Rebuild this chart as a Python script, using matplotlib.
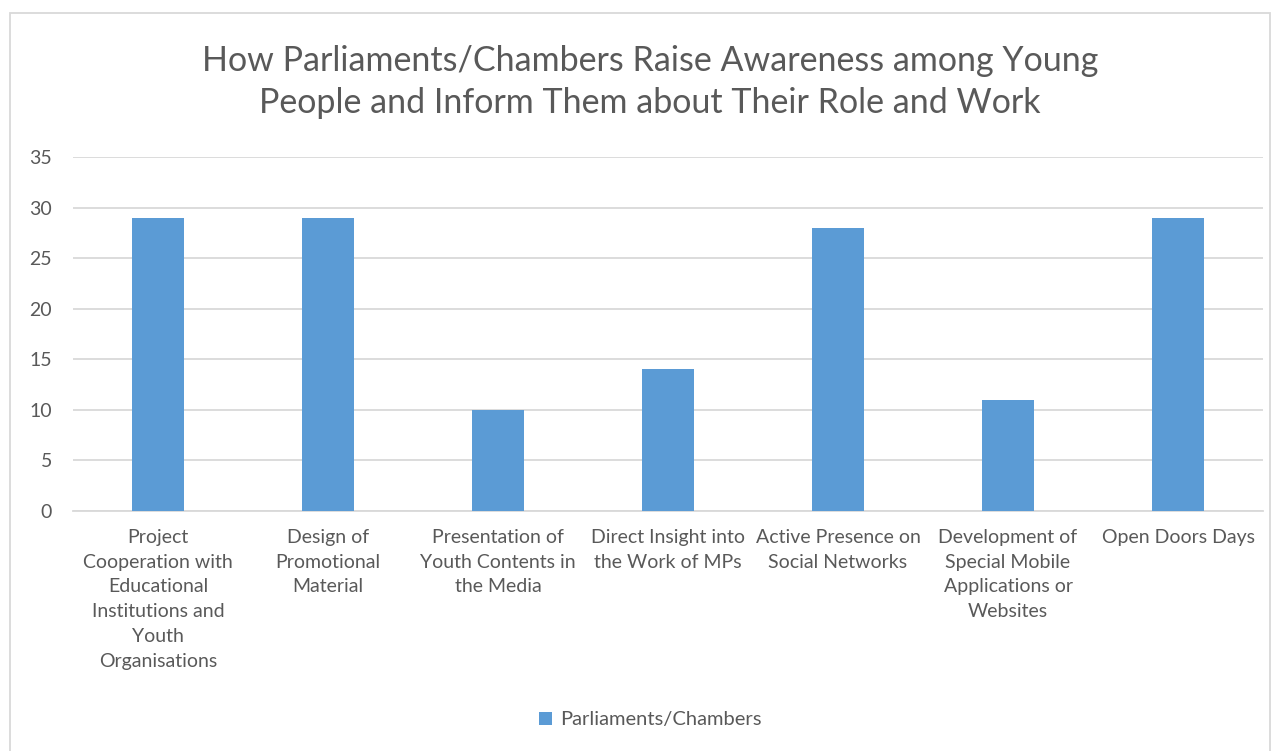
import matplotlib.pyplot as plt
from matplotlib.patches import Rectangle

# data
categories = [
    "Project\nCooperation with\nEducational\nInstitutions and\nYouth\nOrganisations",
    "Design of\nPromotional\nMaterial",
    "Presentation of\nYouth Contents in\nthe Media",
    "Direct Insight into\nthe Work of MPs",
    "Active Presence on\nSocial Networks",
    "Development of\nSpecial Mobile\nApplications or\nWebsites",
    "Open Doors Days",
]
values = [29, 29, 10, 14, 28, 11, 29]
series_name = "Parliaments/Chambers"
yticks = [0, 5, 10, 15, 20, 25, 30, 35]

bar_color = "#5B9BD5"
text_color = "#595959"
grid_color = "#D9D9D9"

plt.rcParams["font.family"] = ["Lato", "DejaVu Sans"]

fig = plt.figure(figsize=(12.8, 7.51), dpi=100)
ax = fig.add_axes([73 / 1280, 1 - 511 / 751, (1263 - 73) / 1280, (511 - 157) / 751])

x = range(len(categories))
ax.bar(x, values, width=0.31, color=bar_color, label=series_name, zorder=3)

ax.set_xlim(-0.5, len(categories) - 0.5)
ax.set_ylim(0, 35)
ax.set_yticks(yticks)
ax.set_xticks(list(x))
ax.set_xticklabels(categories, fontsize=14, color=text_color, linespacing=1.55, va="top")
ax.tick_params(axis="y", labelsize=14, labelcolor=text_color, length=0, pad=15)
ax.tick_params(axis="x", length=0, pad=13)
ax.yaxis.grid(True, color=grid_color, linewidth=1.3, zorder=0)
for s in ["top", "right", "left"]:
    ax.spines[s].set_visible(False)
ax.spines["bottom"].set_color(grid_color)
ax.spines["bottom"].set_linewidth(1.3)

fig.text(0.508, 1 - 82 / 751, "How Parliaments/Chambers Raise Awareness among Young\nPeople and Inform Them about Their Role and Work",
         ha="center", va="center", fontsize=24.5, color=text_color, linespacing=1.36)

fig.legend(loc="center", bbox_to_anchor=(0.508, 1 - 720 / 751), frameon=False,
           fontsize=14.5, labelcolor=text_color, handlelength=0.65, handleheight=0.65,
           handletextpad=0.4)

# outer chart border
fig.add_artist(Rectangle((10 / 1280, -0.05), 1260 / 1280, 1.05 - 13 / 751,
                         transform=fig.transFigure, fill=False,
                         edgecolor=grid_color, linewidth=1.3))

fig.savefig("out.png", dpi=100)
